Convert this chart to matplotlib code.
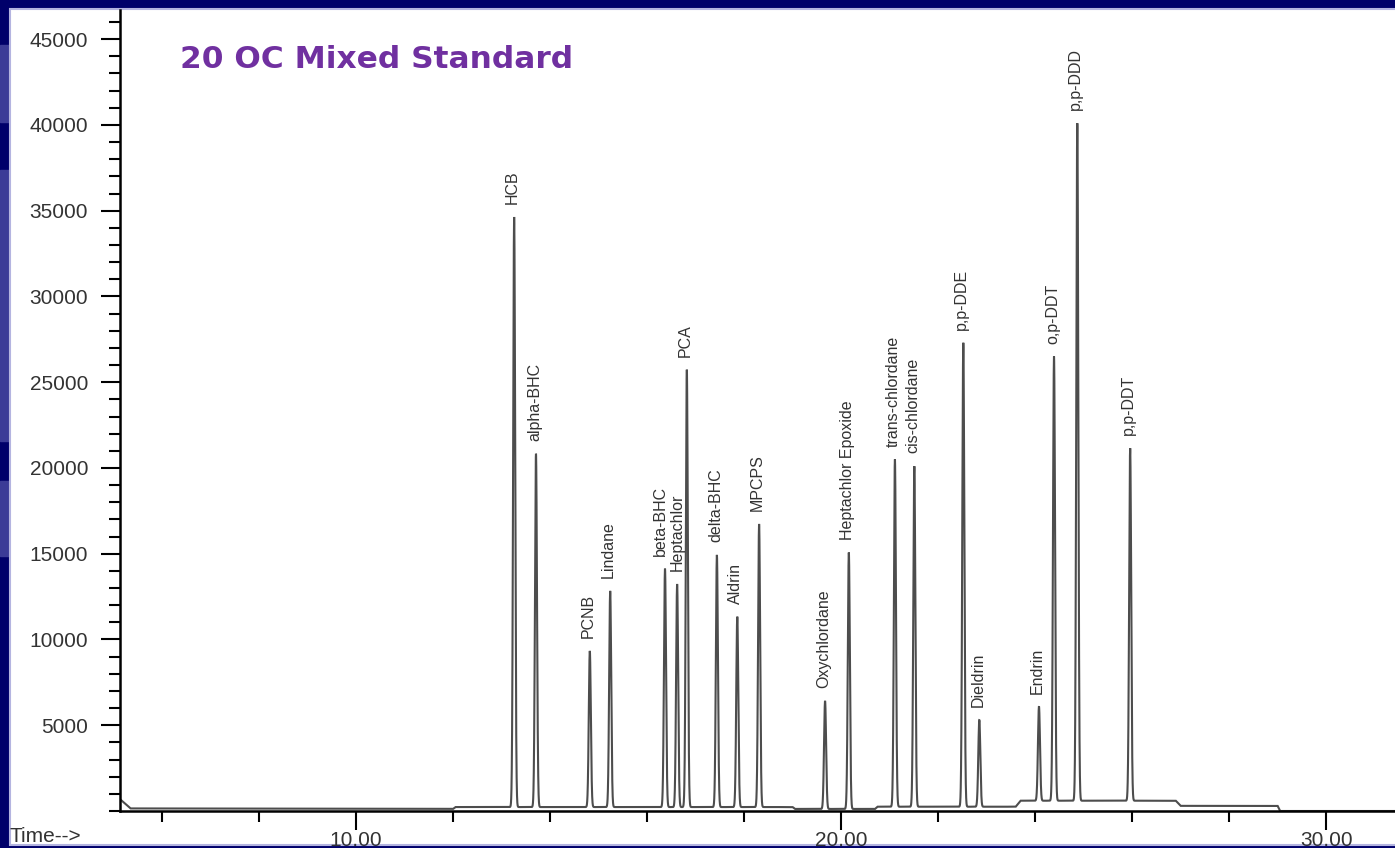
"""
Gas chromatogram of the 20 OC mixed pesticide standard, drawn as a
slide-style figure with labelled peaks.
"""

import matplotlib

matplotlib.use("Agg")

import matplotlib.pyplot as plt
import numpy as np
from matplotlib.patches import Rectangle
from matplotlib.ticker import FixedLocator, MultipleLocator

# Retention times (min), peak heights above baseline (abundance), names
peak_names = [
    "HCB", "alpha-BHC", "PCNB", "Lindane", "beta-BHC", "Heptachlor", "PCA",
    "delta-BHC", "Aldrin", "MPCPS", "Oxychlordane", "Heptachlor Epoxide",
    "trans-chlordane", "cis-chlordane", "p,p-DDE", "Dieldrin", "Endrin",
    "o,p-DDT", "p,p-DDD", "p,p-DDT",
]
peak_times = [
    13.26, 13.71, 14.82, 15.24, 16.37, 16.62, 16.82,
    17.44, 17.86, 18.31, 19.67, 20.16,
    21.11, 21.51, 22.52, 22.85, 24.08,
    24.39, 24.87, 25.96,
]
peak_heights = [
    34400, 20600, 9100, 12600, 13900, 13000, 25500,
    14700, 11100, 16500, 6300, 14950,
    20250, 19850, 27050, 5050, 5500,
    25900, 39500, 20550,
]

# Baseline drift as breakpoints (min, abundance)
baseline_times = [5.13, 5.35, 12.0, 12.05, 19.0, 19.05, 20.7, 20.75,
                  23.6, 23.7, 26.9, 27.0, 29.0, 29.05, 31.5]
baseline_levels = [700, 150, 120, 230, 230, 120, 120, 250,
                   250, 600, 600, 300, 300, 0, 0]

title_text = "20 OC Mixed Standard"
x_major = [10, 20, 30]
x_tick_labels = ["10.00", "20.00", "30.00"]
y_major = [5000, 10000, 15000, 20000, 25000, 30000, 35000, 40000, 45000]

NAVY = "#00006a"
PANEL = "#3b3b97"
TEXT = "#333333"
TRACE = "#4d4d4d"
PURPLE = "#7030a0"
PEAK_SIGMA = 0.021
LABEL_GAP = 750

W, H = 1395, 848
fig = plt.figure(figsize=(W / 100, H / 100), dpi=100, facecolor=NAVY)

# slide decoration: lighter panels on the left strip, white content area
for y0, y1 in [(45, 122), (170, 441), (481, 556)]:
    fig.patches.append(Rectangle((0, 1 - y1 / H), 10 / W, (y1 - y0) / H,
                                 transform=fig.transFigure, color=PANEL,
                                 zorder=-5))
fig.patches.append(Rectangle((10 / W, 3 / H), 1, (H - 12) / H,
                             transform=fig.transFigure, facecolor="white",
                             edgecolor="#b4b4e0", linewidth=1.5, zorder=-5))

ax = fig.add_axes([120 / W, (H - 811) / H, (W - 120) / W, (811 - 10) / H])
ax.set_facecolor("none")
ax.set_zorder(2)

t = np.linspace(5.13, 31.5, 60000)
signal = np.interp(t, baseline_times, baseline_levels)
for rt, height in zip(peak_times, peak_heights):
    signal += height * np.exp(-0.5 * ((t - rt) / PEAK_SIGMA) ** 2)

ax.plot(t, signal, color=TRACE, linewidth=1.5, solid_joinstyle="miter")

# beta-BHC and Heptachlor elute close together, nudge their labels apart
label_shift = {"beta-BHC": -0.1, "Heptachlor": 0.0}

baseline_at_peaks = np.interp(peak_times, baseline_times, baseline_levels)
for name, rt, height, base in zip(peak_names, peak_times, peak_heights,
                                  baseline_at_peaks):
    ax.text(rt + label_shift.get(name, -0.03), base + height + LABEL_GAP,
            name, rotation=90, ha="center", va="bottom", fontsize=11.5,
            color=TEXT, family="Liberation Sans")

ax.set_xlim(5.134, 31.42)
ax.set_ylim(0, 46700)

for side in ["top", "right"]:
    ax.spines[side].set_visible(False)
for side in ["left", "bottom"]:
    ax.spines[side].set_linewidth(1.8)
    ax.spines[side].set_color("black")

ax.xaxis.set_major_locator(FixedLocator(x_major))
ax.set_xticklabels(x_tick_labels)
ax.xaxis.set_minor_locator(MultipleLocator(2))
ax.yaxis.set_major_locator(FixedLocator(y_major))
ax.yaxis.set_minor_locator(MultipleLocator(1000))

ax.tick_params(axis="both", which="major", length=14, width=1.5,
               color="black", labelsize=15, labelcolor=TEXT,
               labelfontfamily="Liberation Sans")
ax.tick_params(axis="both", which="minor", length=8, width=1.5,
               color="black")
ax.tick_params(axis="x", which="major", pad=0.5)
ax.tick_params(axis="y", which="major", pad=9)

fig.text(10 / W, 1 - 837 / H, "Time-->", ha="left", va="center",
         fontsize=15, color=TEXT, family="Liberation Sans", zorder=3)

fig.text(180 / W, 1 - 60 / H, title_text, ha="left", va="center",
         fontsize=22.5, fontweight="bold", color=PURPLE,
         family="DejaVu Sans", zorder=3)

fig.savefig("out.png", dpi=100, facecolor=NAVY)
